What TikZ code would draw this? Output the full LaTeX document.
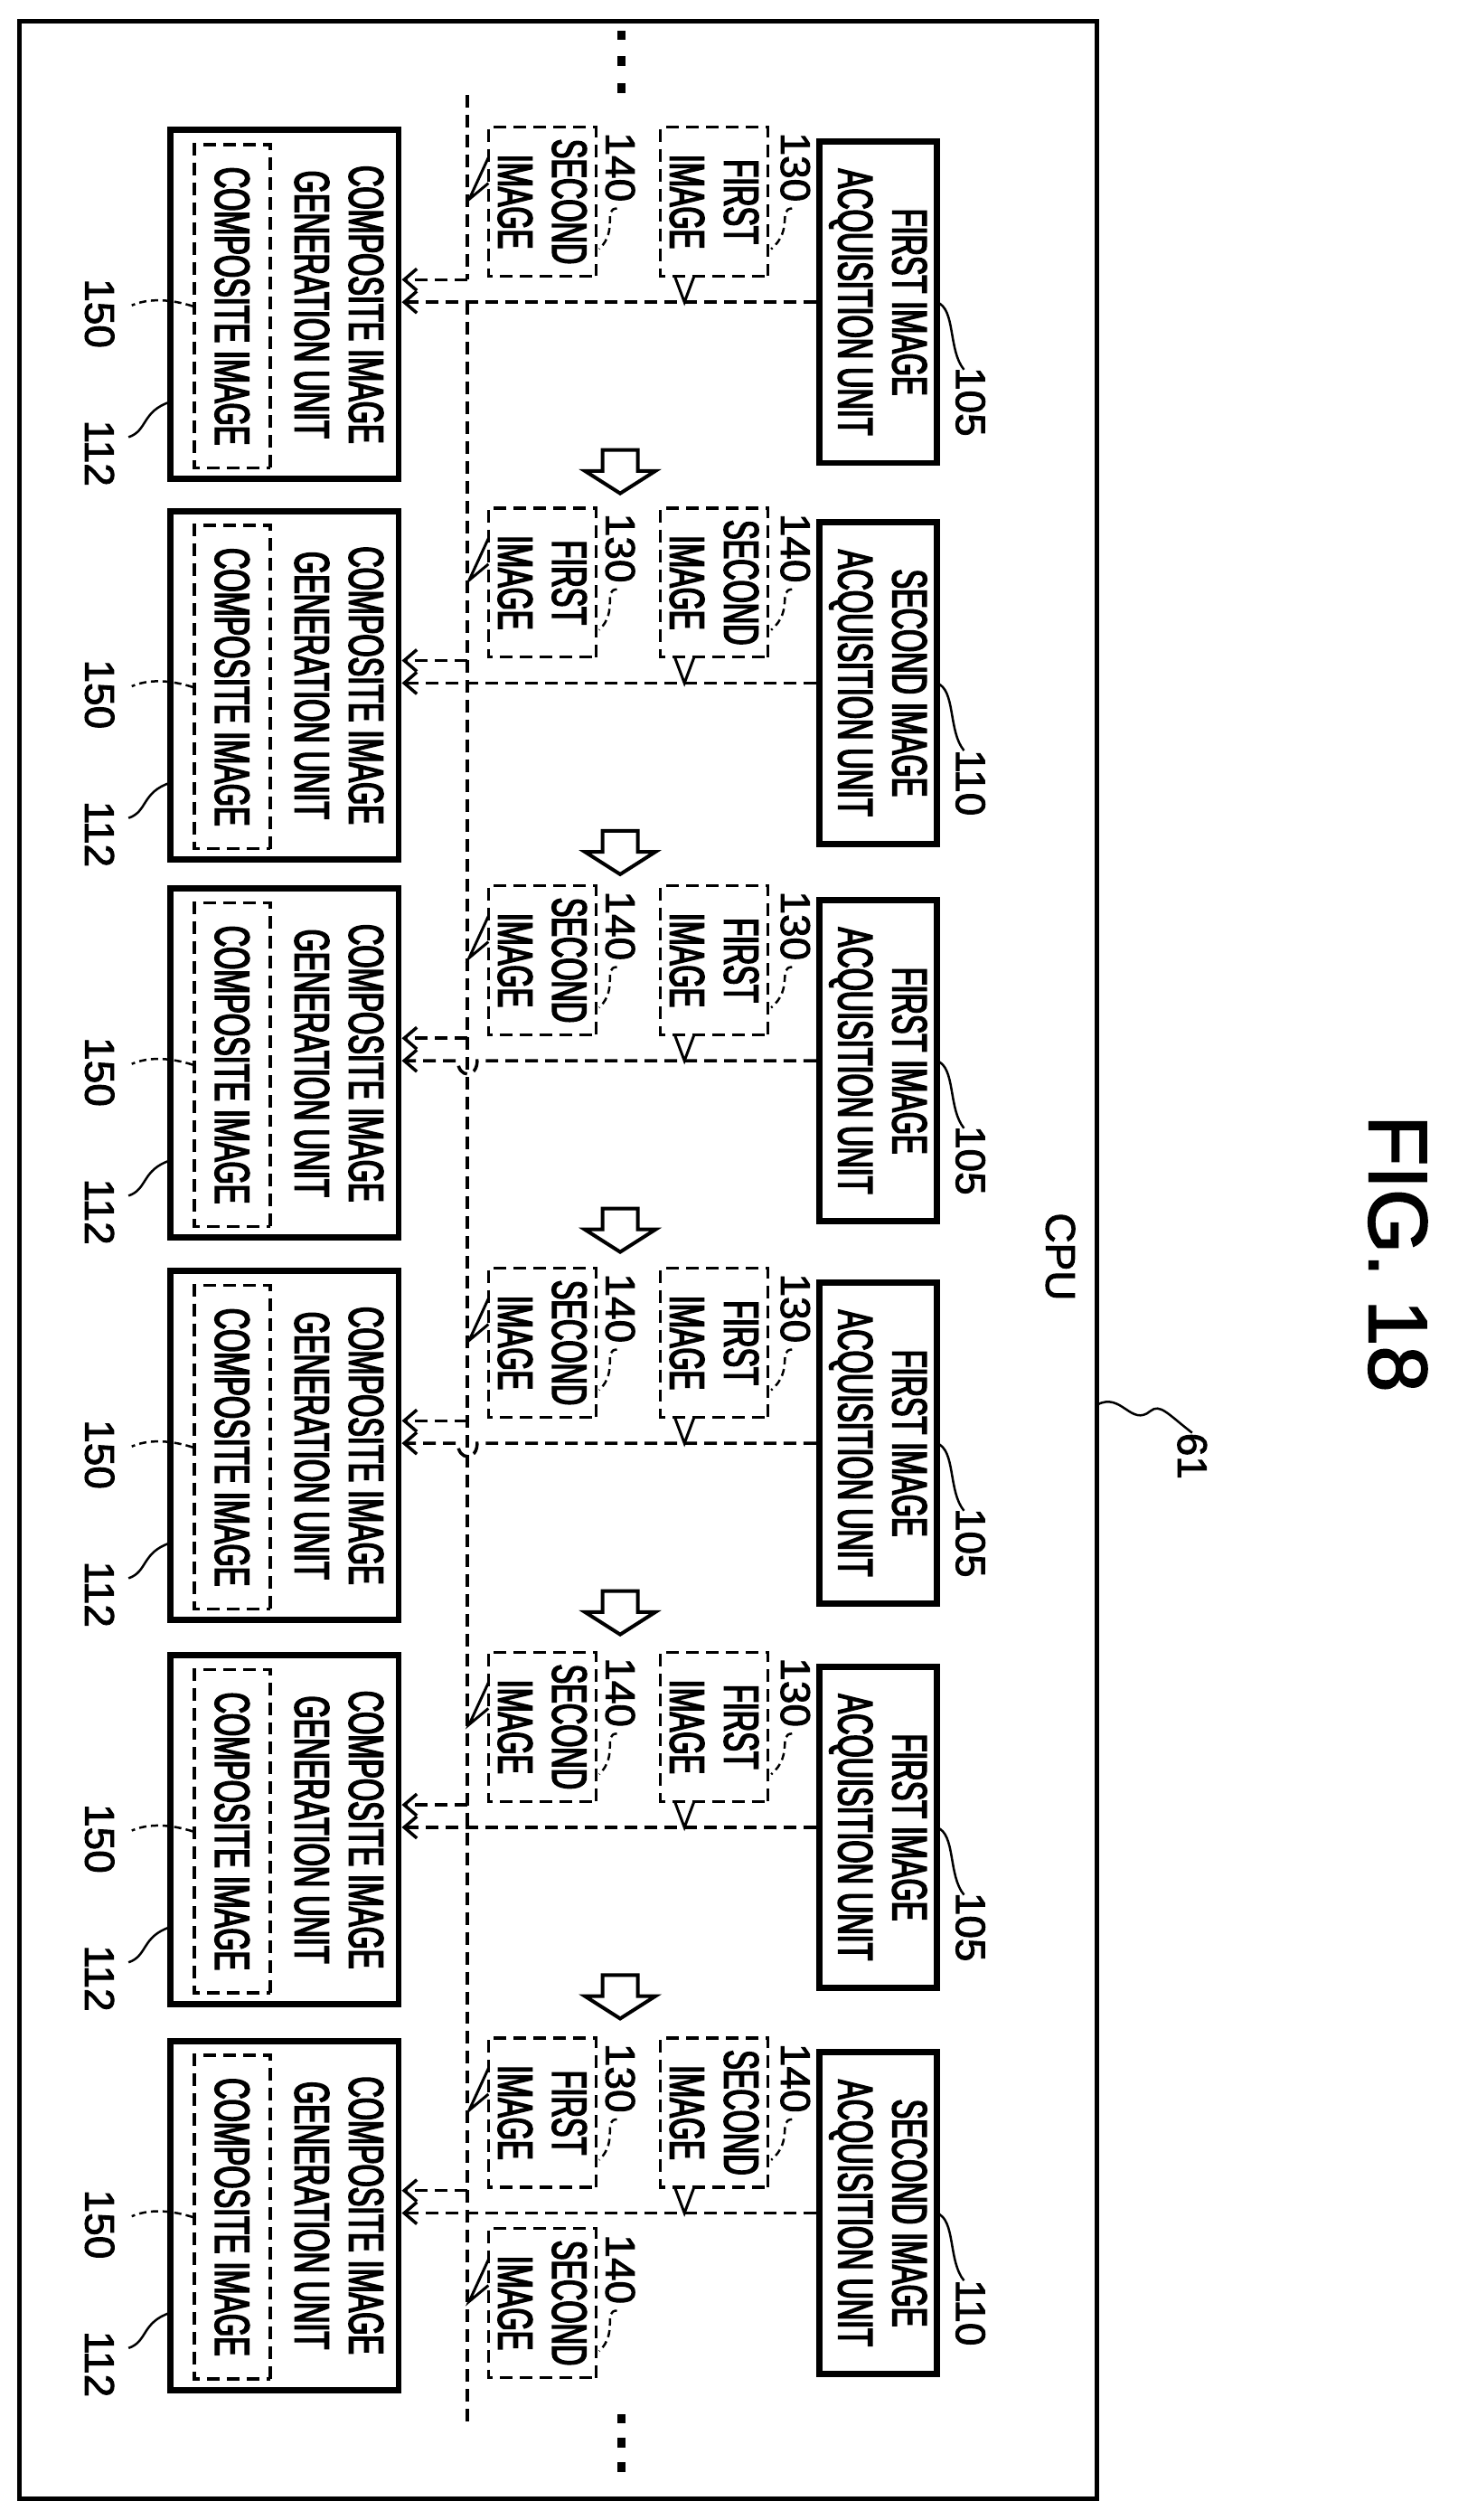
\documentclass[tikz,border=0pt]{standalone}
\usepackage{fontspec}
\setmainfont{Liberation Sans}[FakeStretch=0.6,FakeBold=3]
\newfontfamily\numfont{Liberation Sans}[FakeBold=2]
\usetikzlibrary{arrows.meta}
\begin{document}
\begin{tikzpicture}[x=1.779pt,y=-1.779pt,
 txt/.style={rotate=-90,font=\fontsize{54}{60}\selectfont,align=center,inner sep=0},
 tbox/.style={draw,line width=7pt,rotate=-90,inner sep=0},
 dl/.style={line width=3.5pt,dash pattern=on 14pt off 8pt},
 dbox/.style={dl,draw,rotate=-90,align=center,inner sep=0,font=\fontsize{54}{60}\selectfont,minimum width=165pt,minimum height=119pt},
 arr/.style={dl,-{Straight Barb[length=14pt,width=24pt,line width=3.5pt]}},
 num/.style={rotate=-90,font=\numfont\fontsize{46}{50}\selectfont,inner sep=0},
 lead/.style={line width=2.5pt}]
\useasboundingbox (0,0) rectangle (919,1568);
\draw[line width=5pt] (12,13) rectangle (683,1555);
\node[num] (cpu) at (660,782) {CPU};
\node[num,font=\numfont\fontsize{92}{100}\selectfont] (fig) at (870,780) {FIG. 18};
\node[num] (n61) at (742,906) {61};
\coordinate (f61) at (683,874);
\draw[lead] (f61) .. controls (698,866) and (704,888) .. (716,878) .. controls (722,873) and (727,880) .. (n61.west);
% dots
\foreach \y in {22,38,55,1505,1520,1535}{\fill (384.5,\y-3) rectangle (389.5,\y+3);}
% vertical bus
\coordinate (vt) at (291,59);
\coordinate (vb) at (291,1510);
\coordinate (vm) at (291,188);
\draw[dl] (vm) -- (vb);
\foreach \T/\a/\an/\r/\rn/\l/\ln/\h [count=\i] in
 {88/FIRST/105/FIRST/130/SECOND/140/0,
  325/SECOND/110/SECOND/140/FIRST/130/0,
  560/FIRST/105/FIRST/130/SECOND/140/1,
  798/FIRST/105/FIRST/130/SECOND/140/1,
  1037/FIRST/105/FIRST/130/SECOND/140/0,
  1277/SECOND/110/SECOND/140/FIRST/130/0}{
  \node[tbox,minimum width=356pt,minimum height=130pt] (acq\i) at (546.5,\T+100) {};
  \node[txt] (acqt\i) at (acq\i) {\a\ IMAGE\\ACQUISITION UNIT};
  \node[tbox,minimum width=386pt,minimum height=253pt] (comp\i) at (177,\T+101.5) {};
  \node[txt] (compt\i) at (211,\T+101.5) {COMPOSITE IMAGE\\GENERATION UNIT};
  \node[dbox,minimum width=358pt,minimum height=84pt] (ci\i) at (144.5,\T+102.5) {COMPOSITE IMAGE};
  \node[dbox] (rb\i) at (444.5,\T+37.5) {\r\\IMAGE};
  \node[dbox] (lb\i) at (337.5,\T+37.5) {\l\\IMAGE};
  % tails
  \draw[line width=3pt] (420,\T+84) -- (426,\T+100) -- (432,\T+84);
  \draw[line width=3pt] (304,\T+10) -- (292,\T+36) -- (304,\T+26);
  % labels
  \node[num] (rn\i) at (495,\T+16) {\rn};
  \node[num] (ln\i) at (386,\T+16) {\ln};
  \draw[lead,dash pattern=on 8pt off 5pt] (rn\i.east) ++(-2,4) .. controls (484,\T+42) and (494,\T+55) .. (480,\T+67);
  \draw[lead,dash pattern=on 8pt off 5pt] (ln\i.east) ++(-2,4) .. controls (375,\T+42) and (385,\T+55) .. (373,\T+67);
  \node[num] (an\i) at (604,\T+162) {\an};
  \draw[lead] (583,\T+100) .. controls (595,\T+104) and (590,\T+130) .. (600,\T+142);
  \node[num] (cn\i) at (62,\T+107) {150};
  \node[num] (gn\i) at (62,\T+194) {112};
  \draw[lead,dash pattern=on 8pt off 5pt] (ci\i.south) .. controls (112,\T+100) and (96,\T+96) .. (82,\T+102);
  \draw[lead] (106,\T+162) .. controls (88,\T+168) and (92,\T+180) .. (80,\T+184);
  % arrows
  \coordinate (s\i) at (291,\T+86);
  \draw[arr] (s\i) -- (s\i -| comp\i.north);
  \ifnum\h=1
    \draw[arr] (acq\i.south) -- (297,\T+100) .. controls (297,\T+111) and (285,\T+111) .. (285,\T+100) -- (acq\i.south -| comp\i.north);
  \else
    \draw[arr] (acq\i.south) -- (acq\i.south -| comp\i.north);
  \fi
  \ifnum\i<6
    \draw[line width=4pt] (375,\T+192) -- (397,\T+192) -- (397,\T+205) -- (408,\T+205) -- (386,\T+219) -- (364,\T+205) -- (375,\T+205) -- cycle;
  \fi
}
\draw[dl] (vt) -- (s1);
% extra second image box
\node[dbox] (xb) at (337.5,1433) {SECOND\\IMAGE};
\draw[line width=3pt] (304,1406) -- (292,1432) -- (304,1422);
\node[num] (xn) at (386,1412) {140};
\draw[lead,dash pattern=on 8pt off 5pt] (xn.east) ++(-2,4) .. controls (375,1438) and (385,1451) .. (373,1463);
\end{tikzpicture}
\end{document}
